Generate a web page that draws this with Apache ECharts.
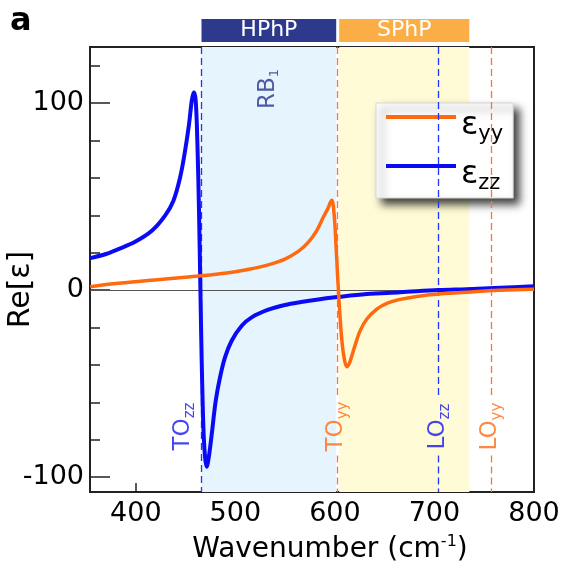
<!DOCTYPE html>
<html>
<head>
<meta charset="utf-8">
<script src="https://cdn.jsdelivr.net/npm/echarts@6/dist/echarts.min.js"></script>
<style>
  html, body { margin: 0; padding: 0; background: #fff; }
  #chart { width: 563px; height: 567px; }
</style>
</head>
<body>
<div id="chart"></div>
<script>
// Re[eps_zz] against wavenumber (cm^-1)
const zzWave = [354.2, 370, 382.6, 399.3, 416.1, 429.4, 437.8, 444.5, 449.5, 453.5, 456.2, 458.3, 460.2, 461.9, 463.5, 464.9,
  466.2, 467.9, 469.6, 471.2, 473.3, 476.3, 480.3, 484.6, 489.6, 496.3, 506.4, 516.4, 533.1, 549.8, 566, 583.3, 600,
  632, 665.6, 704, 732.4, 766, 800];
const zzEps = [17.1, 19.3, 21.9, 25.8, 31.7, 39.8, 47.8, 60.2, 74.5, 88.8, 101.2, 105.8, 101.2, 78.1, 42.4, 0,
  -37.8, -73.4, -89.5, -94.5, -89.5, -77, -59.2, -46.7, -36, -27.1, -19.1, -14.6, -10.5, -8.0, -6.4, -5.0, -3.9,
  -2.1, -1.2, 0, 0.5, 1.2, 2.0];

// Re[eps_yy] against wavenumber (cm^-1)
const yyWave = [354.2, 382.6, 416.1, 449.5, 466.2, 482.9, 499.7, 516.4, 533.1, 549.8, 563.2, 573.2, 581.6, 588.3, 593.3,
  595.5, 597, 599.3, 601, 602.3, 603.5, 605, 607, 609.5, 612, 615, 620, 625.4, 632.1, 642.1, 652.2, 665.6, 682.3,
  704, 732.4, 757, 782.6, 800];
const yyEps = [1.8, 3.6, 5.3, 6.8, 7.6, 8.6, 9.8, 11.4, 13.5, 16.6, 20.7, 25.5, 31.7, 38.9, 44,
  47, 48, 40, 25, 12, 0, -13, -27, -37, -41, -38.5, -30, -21.7, -15.5, -10.2, -7.1, -5.0, -3.4,
  -2.1, -1.2, -0.2, 0.2, 0.5];

// axis ticks
const xTicks = [400, 500, 600, 700, 800];
const yMajorTicks = [-100, 0, 100];
const yMinorTicks = [-100, -80, -60, -40, -20, 0, 20, 40, 60, 80, 100, 120];

// phonon modes: name, polarisation, wavenumber
const modeNames = ['TO', 'TO', 'LO', 'LO'];
const modeAxes = ['zz', 'yy', 'zz', 'yy'];
const modeWave = [466, 602.7, 704, 757];

// polariton bands
const bandNames = ['HPhP', 'SPhP'];
const bandFrom = [466, 604.3];
const bandTo = [601.3, 735];

// reststrahlen band label
const rbName = 'RB';
const rbIndex = '1';

const FONT = 'DejaVu Sans';
const BLUE = '#0a0af5';
const ORANGE = '#ff6a10';
const axisColor = { zz: '#2035ff', yy: '#ff7433' };
const labelColor = { zz: '#1515f0', yy: '#ff6a10' };
const bandFill = ['#e6f5fd', '#fefbd6'];
const barFill = ['#2d398c', '#fbae45'];

const X_MIN = 354, X_MAX = 800, Y_MIN = -108, Y_MAX = 130;
// vertical extent of the gap that the mode labels sit in
const GAP_TOP = -57.5, GAP_BOTTOM = -88.5, LABEL_Y = -73;
const labelOffset = [-18.6, -1.6, -0.4, -1.2];

const zip = (xs, ys) => xs.map((x, i) => [x, ys[i]]);

const modeLines = [];
modeWave.forEach((w, i) => {
  const ls = { color: axisColor[modeAxes[i]], width: 1.3, type: [7, 4], opacity: 1 };
  if (i === 0) {
    modeLines.push([{ coord: [w, Y_MAX], lineStyle: ls }, { coord: [w, Y_MIN] }]);
  } else {
    modeLines.push([{ coord: [w, Y_MAX], lineStyle: ls }, { coord: [w, GAP_TOP] }]);
    modeLines.push([{ coord: [w, GAP_BOTTOM], lineStyle: ls }, { coord: [w, Y_MIN] }]);
  }
});

const subRich = (color, size, subSize, drop) => ({
  m: { fontFamily: FONT, fontSize: size, lineHeight: size, color: color, verticalAlign: 'top' },
  s: { fontFamily: FONT, fontSize: subSize, lineHeight: subSize, color: color, verticalAlign: 'top', padding: [drop, 0, 0, 0] }
});

const modeLabels = modeWave.map((w, i) => ({
  value: [w + labelOffset[i], LABEL_Y],
  label: {
    formatter: '{m|' + modeNames[i] + '}{s|' + modeAxes[i] + '}',
    rich: subRich(labelColor[modeAxes[i]], 23, 15, 11)
  }
}));
modeLabels.push({
  value: [532.8, 107.5],
  label: {
    formatter: '{m|' + rbName + '}{s|' + rbIndex + '}',
    rich: subRich('#2a3190', 23, 13, 12)
  }
});

const chart = echarts.init(document.getElementById('chart'), null, { renderer: 'canvas' });

chart.setOption({
  animation: false,
  backgroundColor: '#fff',
  textStyle: { fontFamily: FONT },
  graphic: [{
    type: 'text', left: 10, top: 6,
    style: { text: 'a', font: 'bold 32px "DejaVu Sans"', fill: '#000' }
  }],
  grid: [
    { left: 90, right: 29, top: 47, bottom: 75, show: true, borderColor: '#222', borderWidth: 2,
      backgroundColor: 'transparent', containLabel: false, outerBoundsMode: 'none' },
    { left: 90, right: 29, top: 19, height: 23, containLabel: false, outerBoundsMode: 'none' }
  ],
  xAxis: [{
    gridIndex: 0, type: 'value', min: X_MIN, max: X_MAX,
    axisLine: { show: true, onZero: false, lineStyle: { color: '#222', width: 2 } },
    axisTick: { show: true, inside: true, length: 9, customValues: xTicks, lineStyle: { color: '#222', width: 1.5 } },
    axisLabel: { customValues: xTicks, fontSize: 27, color: '#000', margin: 8, fontFamily: FONT },
    splitLine: { show: false },
    name: '{a|Wavenumber (cm}{b|-1}{a|)}',
    nameLocation: 'middle', nameGap: 38,
    nameTextStyle: {
      padding: [0, 0, 0, 36],
      rich: {
        a: { fontSize: 28, fontFamily: FONT, color: '#000', lineHeight: 32, verticalAlign: 'bottom' },
        b: { fontSize: 16, fontFamily: FONT, color: '#000', lineHeight: 16, verticalAlign: 'top', padding: [2, 0, 0, 0] }
      }
    }
  }, {
    gridIndex: 1, type: 'value', min: X_MIN, max: X_MAX, show: false
  }],
  yAxis: [{
    gridIndex: 0, type: 'value', min: Y_MIN, max: Y_MAX, position: 'left',
    axisLine: { show: true, onZero: false, lineStyle: { color: '#222', width: 2 } },
    axisTick: { show: true, inside: true, length: 20, customValues: yMajorTicks, lineStyle: { color: '#222', width: 1.5 } },
    axisLabel: { customValues: yMajorTicks, fontSize: 27, color: '#000', margin: 6, fontFamily: FONT },
    splitLine: { show: false },
    name: 'Re[ε]', nameLocation: 'middle', nameGap: 54, nameMoveOverlap: false,
    nameTextStyle: { fontSize: 30, fontFamily: FONT, color: '#000', padding: [0, 40, 0, 0] }
  }, {
    gridIndex: 0, type: 'value', min: Y_MIN, max: Y_MAX, position: 'left', offset: 0,
    axisLine: { show: false },
    axisTick: { show: true, inside: true, length: 10, customValues: yMinorTicks, lineStyle: { color: '#222', width: 1.5 } },
    axisLabel: { show: false },
    splitLine: { show: false }
  }, {
    gridIndex: 1, type: 'value', min: 0, max: 1, show: false
  }],
  legend: {
    data: ['εyy', 'εzz'],
    orient: 'vertical', left: 376, top: 103,
    icon: 'rect', itemWidth: 70, itemHeight: 4, itemGap: 7,
    padding: [0, 10, 4, 10],
    backgroundColor: '#fff', borderColor: '#d6d6d6', borderWidth: 1,
    shadowBlur: 8, shadowColor: 'rgba(0,0,0,0.75)', shadowOffsetX: 6, shadowOffsetY: 6,
    formatter: name => '{e|ε}{s|' + name.slice(1) + '}',
    textStyle: {
      rich: {
        e: { fontFamily: FONT, fontSize: 32, lineHeight: 28, color: '#000', verticalAlign: 'top', padding: [7, 0, 0, 0] },
        s: { fontFamily: FONT, fontSize: 21, lineHeight: 21, color: '#000', verticalAlign: 'top', padding: [21, 0, 0, 0] }
      }
    }
  },
  series: [
    {
      name: 'bands', type: 'line', xAxisIndex: 0, yAxisIndex: 0, data: [], z: 1, silent: true,
      markArea: {
        silent: true,
        data: bandNames.map((n, i) => [
          { xAxis: bandFrom[i], itemStyle: { color: bandFill[i] } },
          { xAxis: bandTo[i] }
        ])
      },
      markLine: {
        silent: true, symbol: 'none', animation: false,
        label: { show: false },
        data: [[{ coord: [X_MIN, 0], lineStyle: { color: '#555', width: 1.2, type: 'solid' } }, { coord: [X_MAX, 0] }]].concat(modeLines)
      }
    },
    {
      name: 'bars', type: 'line', xAxisIndex: 1, yAxisIndex: 2, data: [], silent: true,
      markArea: {
        silent: true,
        label: { show: true, position: 'inside', color: '#fff', fontSize: 22, fontFamily: FONT },
        data: bandNames.map((n, i) => [
          { name: n, xAxis: bandFrom[i], itemStyle: { color: barFill[i] } },
          { xAxis: bandTo[i] }
        ])
      }
    },
    {
      name: 'εzz', type: 'line', xAxisIndex: 0, yAxisIndex: 0, z: 5,
      data: zip(zzWave, zzEps), showSymbol: false, symbol: 'none',
      smooth: 0.35,
      lineStyle: { color: BLUE, width: 4, join: 'round' }, itemStyle: { color: BLUE }
    },
    {
      name: 'εyy', type: 'line', xAxisIndex: 0, yAxisIndex: 0, z: 5,
      data: zip(yyWave, yyEps), showSymbol: false, symbol: 'none',
      smooth: 0.35,
      lineStyle: { color: ORANGE, width: 3.5, join: 'round' }, itemStyle: { color: ORANGE }
    },
    {
      name: 'labels', type: 'scatter', xAxisIndex: 0, yAxisIndex: 0, z: 6, silent: true,
      symbolSize: 0, data: modeLabels,
      label: { show: true, position: 'inside', rotate: 90 }
    }
  ]
});
</script>
</body>
</html>
